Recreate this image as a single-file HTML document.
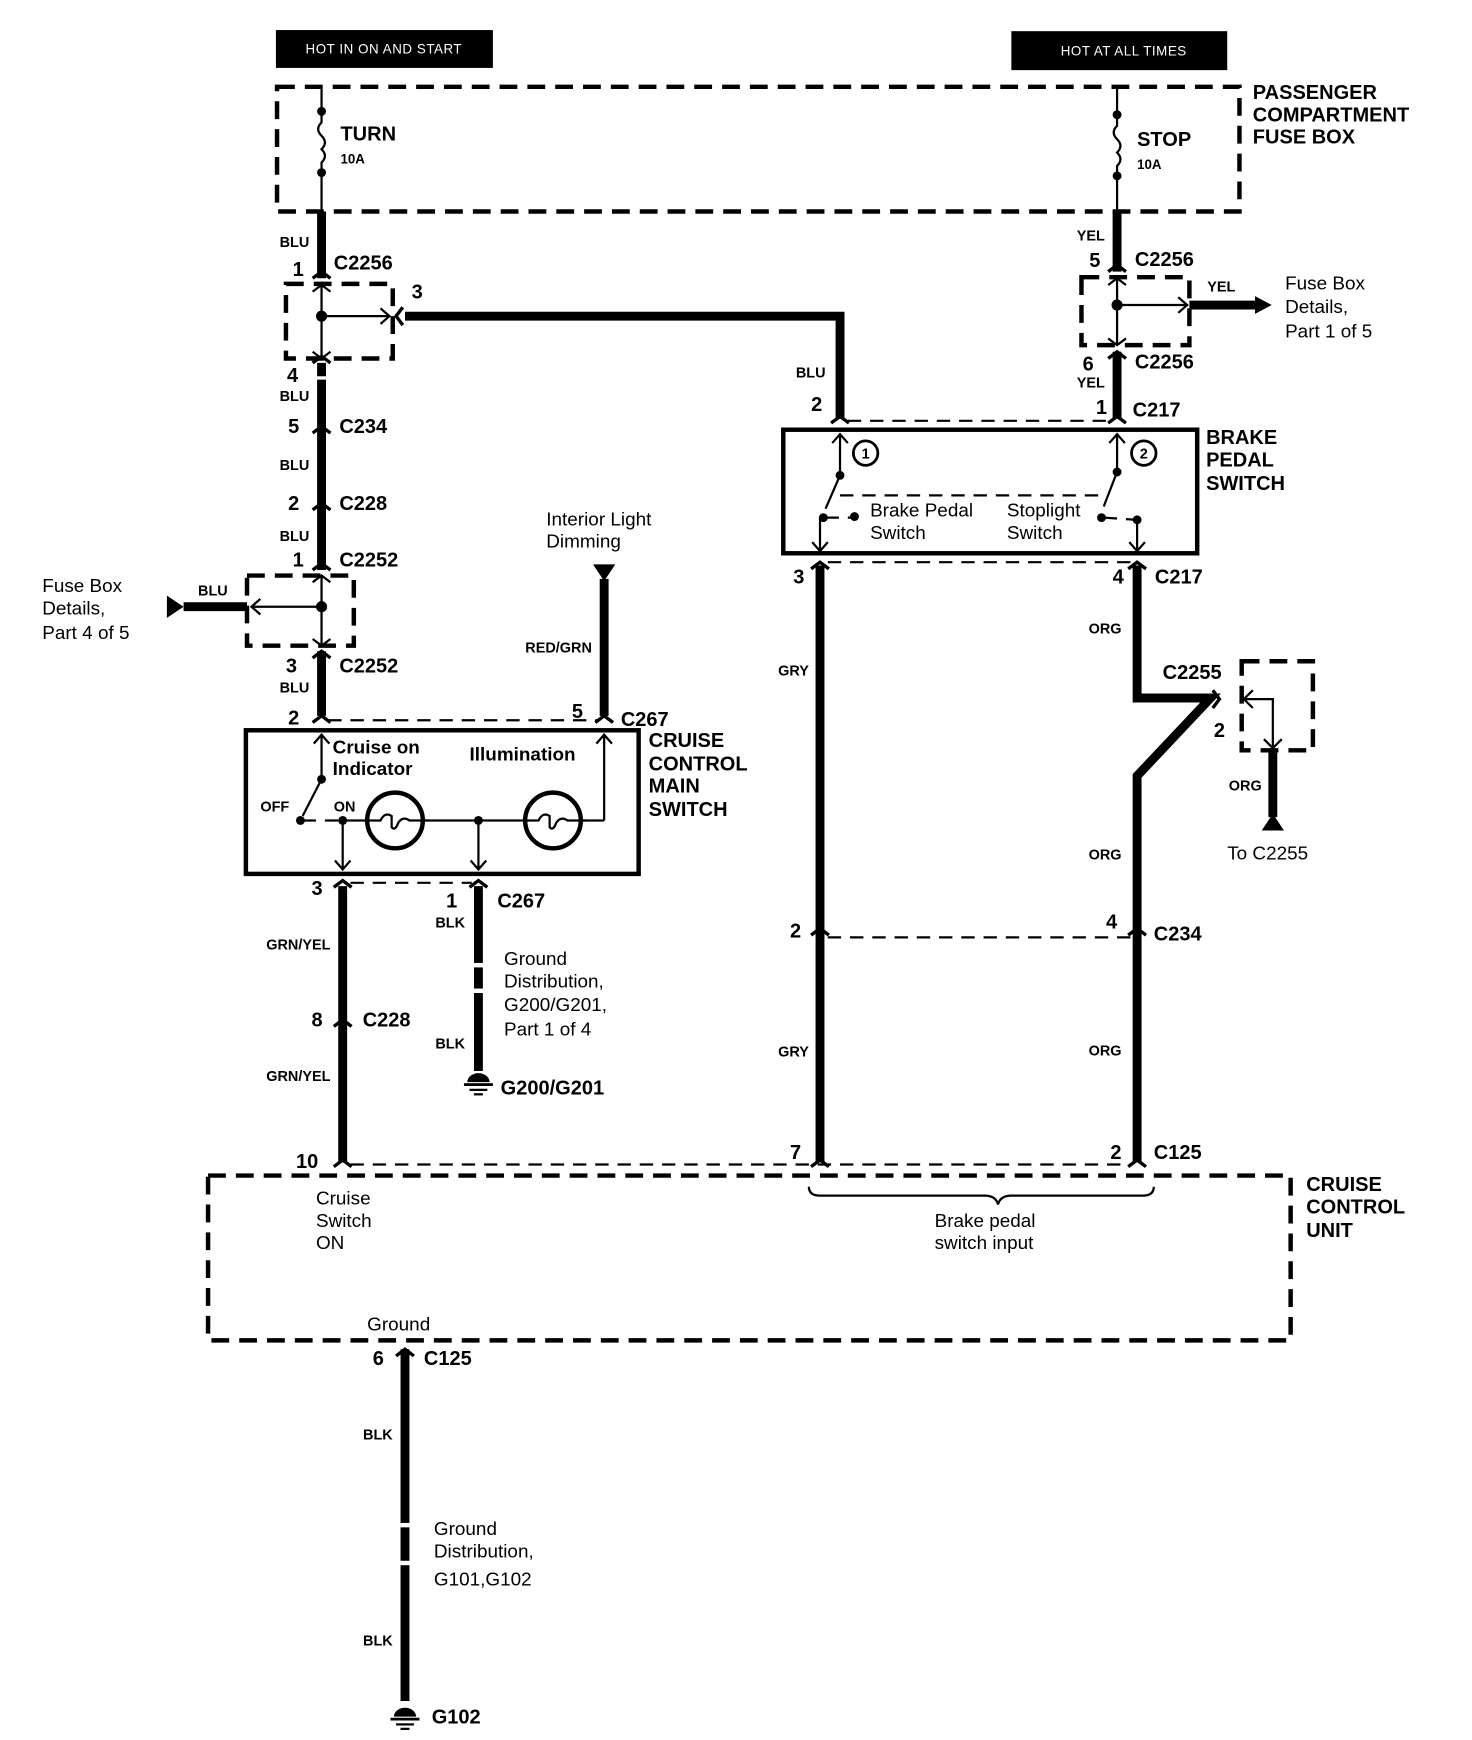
<!DOCTYPE html>
<html><head><meta charset="utf-8"><style>
html,body{margin:0;padding:0;background:#fff}
svg{display:block}
text{font-family:"Liberation Sans",Arial,sans-serif;fill:#000}
.b{font-weight:bold}
.w{font-size:13px;font-weight:bold}
.l{font-size:18px;font-weight:bold}
.r{font-size:17px}
</style></head><body>
<svg width="1472" height="1740" viewBox="0 0 1323 1563" preserveAspectRatio="none" xmlns="http://www.w3.org/2000/svg">
<rect width="1323" height="1563" fill="#fff"/>
<!-- header boxes -->
<rect x="248" y="27" width="195" height="34" fill="#000"/>
<text x="345" y="48" font-size="12" text-anchor="middle" style="fill:#fff" letter-spacing="0.5">HOT IN ON AND START</text>
<rect x="909" y="28" width="194" height="35" fill="#000"/>
<text x="1010" y="50" font-size="12" text-anchor="middle" style="fill:#fff" letter-spacing="0.5">HOT AT ALL TIMES</text>

<g fill="none" stroke="#000" stroke-width="4" stroke-dasharray="16,9">
<rect x="249" y="78" width="865" height="112"/>
<rect x="257" y="255" width="96" height="67"/>
<rect x="222" y="517" width="96" height="63"/>
<rect x="972" y="249" width="97" height="61"/>
<rect x="1116" y="594" width="64" height="80"/>
<rect x="187" y="1056" width="973" height="148"/>
</g>
<g fill="none" stroke="#000" stroke-width="2" stroke-dasharray="12,8">
<line x1="295" y1="647" x2="537" y2="647"/>
<line x1="315" y1="793" x2="424" y2="793"/>
<line x1="315" y1="1046" x2="1016" y2="1046"/>
<line x1="762" y1="378" x2="998" y2="378"/>
<line x1="744" y1="505" x2="1016" y2="505"/>
<line x1="744" y1="842" x2="1016" y2="842"/>
<line x1="755" y1="445" x2="995" y2="445"/>
<line x1="272" y1="737" x2="306" y2="737"/>
<line x1="742" y1="465" x2="766" y2="465"/>
<line x1="992" y1="465" x2="1022" y2="467"/>
</g>
<!-- fuses -->
<g fill="none" stroke="#000" stroke-width="2">
<line x1="289" y1="78" x2="289" y2="100"/>
<path d="M289 100 v10 q-6 6 0 12 q6 6 0 12 q6 6 0 12 v9"/>
<line x1="289" y1="155" x2="289" y2="190"/>
<line x1="1004" y1="78" x2="1004" y2="103"/>
<path d="M1004 103 v10 q-6 6 0 12 q6 6 0 12 q6 6 0 12 v9"/>
<line x1="1004" y1="158" x2="1004" y2="190"/>
</g>
<g fill="#000">
<circle cx="289" cy="100" r="4"/><circle cx="289" cy="155" r="4"/>
<circle cx="1004" cy="103" r="4"/><circle cx="1004" cy="158" r="4"/>
</g>
<!-- thick wires -->
<g fill="none" stroke="#000" stroke-width="8">
<line x1="289" y1="190" x2="289" y2="250"/>
<line x1="289" y1="326" x2="289" y2="512"/>
<line x1="289" y1="585" x2="289" y2="643"/>
<polyline points="364,284 755,284 755,376"/>
<line x1="1004" y1="190" x2="1004" y2="244"/>
<line x1="1004" y1="316" x2="1004" y2="376"/>
<line x1="1069" y1="274" x2="1128" y2="274"/>
<line x1="165" y1="545" x2="222" y2="545"/>
<line x1="543" y1="520" x2="543" y2="643"/>
<line x1="308" y1="796" x2="308" y2="1044"/>
<line x1="430" y1="796" x2="430" y2="962"/>
<line x1="737" y1="508" x2="737" y2="1044"/>
<polyline points="1022,508 1022,627 1088,627 1022,697 1022,1044"/>
<line x1="1144" y1="674" x2="1144" y2="734"/>
<line x1="364" y1="1212" x2="364" y2="1528"/>
</g>
<!-- gaps in wires -->
<g fill="#fff">
<rect x="280" y="338" width="18" height="3"/>
<rect x="425" y="865" width="10" height="4"/><rect x="425" y="888" width="10" height="4"/>
<rect x="359" y="1368" width="10" height="4"/><rect x="359" y="1402" width="10" height="4"/>
</g>
<!-- connectors -->
<g fill="none" stroke="#000" stroke-width="3">
<path d="M281 250 l8 -6 l8 6"/><path d="M281 326 l8 -6 l8 6"/>
<path d="M281 389 l8 -6 l8 6"/><path d="M281 458 l8 -6 l8 6"/>
<path d="M281 512 l8 -6 l8 6"/><path d="M281 591 l8 -6 l8 6"/>
<path d="M281 649 l8 -6 l8 6"/><path d="M535 649 l8 -6 l8 6"/>
<path d="M300 797 l8 -6 l8 6"/><path d="M422 797 l8 -6 l8 6"/>
<path d="M300 922 l8 -6 l8 6"/><path d="M300 1048 l8 -6 l8 6"/>
<path d="M747 380 l8 -6 l8 6"/><path d="M996 380 l8 -6 l8 6"/>
<path d="M996 244 l8 -6 l8 6"/><path d="M996 322 l8 -6 l8 6"/>
<path d="M729 511 l8 -6 l8 6"/><path d="M1014 511 l8 -6 l8 6"/>
<path d="M729 840 l8 -6 l8 6"/><path d="M1014 840 l8 -6 l8 6"/>
<path d="M729 1048 l8 -6 l8 6"/><path d="M1014 1048 l8 -6 l8 6"/>
<path d="M356 1218 l8 -6 l8 6"/>
<path d="M362 276 l-6 8 l6 8"/>
<path d="M1090 620 l6 8 l-6 8"/>
</g>
<!-- thin internal lines with arrows -->
<g fill="none" stroke="#000" stroke-width="2">
<line x1="289" y1="255" x2="289" y2="322"/>
<line x1="289" y1="284" x2="350" y2="284"/><path d="M342 277 l8 7 l-8 7"/>
<path d="M281 262 l8 -6 l8 6"/><path d="M281 316 l8 6 l8 -6"/>
<line x1="289" y1="517" x2="289" y2="580"/>
<line x1="289" y1="545" x2="226" y2="545"/><path d="M234 538 l-8 7 l8 7"/>
<path d="M281 523 l8 -6 l8 6"/><path d="M281 574 l8 6 l8 -6"/>
<line x1="1004" y1="249" x2="1004" y2="310"/>
<line x1="1004" y1="274" x2="1067" y2="274"/><path d="M1059 267 l8 7 l-8 7"/>
<path d="M996 256 l8 -6 l8 6"/><path d="M996 304 l8 6 l8 -6"/>
<polyline points="1144,672 1144,628 1118,628"/><path d="M1126 620 l-8 8 l8 8"/><path d="M1136 664 l8 8 l8 -8"/>
<!-- main switch -->
<line x1="289" y1="660" x2="289" y2="700"/><path d="M282 668 l7 -8 l7 8"/>
<line x1="289" y1="700" x2="272" y2="733"/>
<line x1="308" y1="737" x2="329" y2="737"/><line x1="381" y1="737" x2="471" y2="737"/><line x1="523" y1="737" x2="543" y2="737"/>
<line x1="543" y1="737" x2="543" y2="660"/><path d="M536 668 l7 -8 l7 8"/>
<line x1="308" y1="737" x2="308" y2="781"/><path d="M301 773 l7 8 l7 -8"/>
<line x1="430" y1="737" x2="430" y2="781"/><path d="M423 773 l7 8 l7 -8"/>
<!-- brake switch -->
<line x1="755" y1="390" x2="755" y2="427"/><path d="M748 398 l7 -8 l7 8"/>
<line x1="755" y1="427" x2="742" y2="457"/>
<line x1="737" y1="465" x2="737" y2="495"/><path d="M730 487 l7 8 l7 -8"/>
<line x1="1004" y1="390" x2="1004" y2="424"/><path d="M997 398 l7 -8 l7 8"/>
<line x1="1004" y1="424" x2="992" y2="455"/>
<line x1="1022" y1="467" x2="1022" y2="495"/><path d="M1015 487 l7 8 l7 -8"/>
<!-- bracket -->
<path d="M727 1066 q0 8 10 8 h148 q10 0 12 8 q2 -8 12 -8 h118 q10 0 10 -8"/>
</g>
<g fill="#000">
<circle cx="289" cy="284" r="5"/><circle cx="289" cy="545" r="5"/><circle cx="1004" cy="274" r="5"/>
<circle cx="289" cy="700" r="4"/><circle cx="270" cy="737" r="4"/><circle cx="308" cy="737" r="4"/><circle cx="430" cy="737" r="4"/>
<circle cx="755" cy="427" r="4"/><circle cx="740" cy="465" r="4"/><circle cx="768" cy="464" r="4"/>
<circle cx="1004" cy="424" r="4"/><circle cx="990" cy="465" r="4"/><circle cx="1022" cy="467" r="4"/>
<polygon points="150,535 165,545 150,555"/>
<polygon points="1128,266 1143,274 1128,282"/>
<polygon points="533,507 553,507 543,522"/>
<polygon points="1134,746 1154,746 1144,731"/>
</g>
<!-- component boxes -->
<rect x="221" y="656" width="353" height="129" fill="none" stroke="#000" stroke-width="4"/>
<rect x="704" y="386" width="372" height="111" fill="none" stroke="#000" stroke-width="4"/>
<g fill="none" stroke="#000">
<circle cx="355" cy="737" r="25" stroke-width="4"/><circle cx="497" cy="737" r="25" stroke-width="4"/>
<path d="M330 737 h12 q4 -8 10 -4 v10 q3 4 6 -4 q4 -6 10 -2 h17" stroke-width="2"/>
<path d="M472 737 h12 q4 -8 10 -4 v10 q3 4 6 -4 q4 -6 10 -2 h17" stroke-width="2"/>
<circle cx="778" cy="407" r="11" stroke-width="2.5"/><circle cx="1028" cy="407" r="11" stroke-width="2.5"/>
</g>
<text x="778" y="412" font-size="13" class="b" text-anchor="middle">1</text>
<text x="1028" y="412" font-size="13" class="b" text-anchor="middle">2</text>
<!-- grounds -->
<g fill="#000">
<path d="M420 972 a10 8 0 0 1 20 0 z"/><rect x="417" y="973" width="26" height="2.5"/><rect x="422" y="978" width="16" height="2"/><rect x="426" y="982" width="8" height="2"/>
<path d="M354 1542 a10 8 0 0 1 20 0 z"/><rect x="351" y="1543" width="26" height="2.5"/><rect x="356" y="1548" width="16" height="2"/><rect x="360" y="1552" width="8" height="2"/>
</g>
<!-- labels -->
<text x="1126" y="89" class="l">PASSENGER</text>
<text x="1126" y="109" class="l">COMPARTMENT</text>
<text x="1126" y="129" class="l">FUSE BOX</text>
<text x="306" y="126" class="l">TURN</text><text x="306" y="147" font-size="12" class="b">10A</text>
<text x="1022" y="131" class="l">STOP</text><text x="1022" y="152" font-size="12" class="b">10A</text>

<g class="w" text-anchor="end">
<text x="278" y="222">BLU</text><text x="278" y="360">BLU</text><text x="278" y="422">BLU</text><text x="278" y="486">BLU</text><text x="278" y="622">BLU</text>
<text x="993" y="216">YEL</text><text x="993" y="348">YEL</text>
<text x="742" y="339">BLU</text>
<text x="532" y="586">RED/GRN</text>
<text x="297" y="853">GRN/YEL</text><text x="297" y="971">GRN/YEL</text>
<text x="418" y="833">BLK</text><text x="418" y="942">BLK</text>
<text x="727" y="607">GRY</text><text x="727" y="949">GRY</text>
<text x="1008" y="569">ORG</text><text x="1008" y="772">ORG</text><text x="1008" y="948">ORG</text>
<text x="1134" y="710">ORG</text>
<text x="353" y="1293">BLK</text><text x="353" y="1478">BLK</text>
</g>
<text x="178" y="535" class="w">BLU</text>
<text x="1085" y="262" class="w">YEL</text>

<g class="l" font-size="17">
<text x="263" y="248">1</text><text x="300" y="242">C2256</text>
<text x="370" y="268">3</text>
<text x="258" y="343">4</text>
<text x="259" y="389">5</text><text x="305" y="389">C234</text>
<text x="259" y="458">2</text><text x="305" y="458">C228</text>
<text x="263" y="509">1</text><text x="305" y="509">C2252</text>
<text x="257" y="604">3</text><text x="305" y="604">C2252</text>
<text x="259" y="651">2</text>
<text x="514" y="645">5</text><text x="558" y="652">C267</text>
<text x="280" y="804">3</text>
<text x="401" y="815">1</text><text x="447" y="815">C267</text>
<text x="280" y="922">8</text><text x="326" y="922">C228</text>
<text x="266" y="1049">10</text>
<text x="450" y="983">G200/G201</text>
<text x="335" y="1226">6</text><text x="381" y="1226">C125</text>
<text x="388" y="1548">G102</text>
<text x="979" y="240">5</text><text x="1020" y="239">C2256</text>
<text x="973" y="333">6</text><text x="1020" y="331">C2256</text>
<text x="985" y="372">1</text><text x="1018" y="374">C217</text>
<text x="729" y="369">2</text>
<text x="713" y="524">3</text>
<text x="1000" y="524">4</text><text x="1038" y="524">C217</text>
<text x="1045" y="610">C2255</text>
<text x="1091" y="662">2</text>
<text x="710" y="842">2</text>
<text x="994" y="834">4</text><text x="1037" y="845">C234</text>
<text x="710" y="1041">7</text>
<text x="998" y="1041">2</text><text x="1037" y="1041">C125</text>
</g>
<g class="l">
<text x="583" y="671">CRUISE</text><text x="583" y="692">CONTROL</text><text x="583" y="712">MAIN</text><text x="583" y="733">SWITCH</text>
<text x="1084" y="399">BRAKE</text><text x="1084" y="419">PEDAL</text><text x="1084" y="440">SWITCH</text>
<text x="1174" y="1070">CRUISE</text><text x="1174" y="1090">CONTROL</text><text x="1174" y="1111">UNIT</text>
<text x="299" y="677" font-size="17">Cruise on</text><text x="299" y="696" font-size="17">Indicator</text>
<text x="422" y="683" font-size="17">Illumination</text>
</g>
<text x="234" y="729" class="w" font-size="14">OFF</text><text x="300" y="729" class="w" font-size="14">ON</text>
<g class="r">
<text x="38" y="532">Fuse  Box</text><text x="38" y="552">Details,</text><text x="38" y="574">Part 4 of 5</text>
<text x="1155" y="260">Fuse Box</text><text x="1155" y="281">Details,</text><text x="1155" y="303">Part 1 of 5</text>
<text x="491" y="472">Interior Light</text><text x="491" y="492">Dimming</text>
<text x="453" y="867">Ground</text><text x="453" y="887">Distribution,</text><text x="453" y="908">G200/G201,</text><text x="453" y="930">Part 1 of 4</text>
<text x="782" y="464">Brake Pedal</text><text x="782" y="484">Switch</text>
<text x="905" y="464">Stoplight</text><text x="905" y="484">Switch</text>
<text x="1103" y="772">To C2255</text>
<text x="284" y="1082">Cruise</text><text x="284" y="1102">Switch</text><text x="284" y="1122">ON</text>
<text x="840" y="1102">Brake pedal</text><text x="840" y="1122">switch input</text>
<text x="330" y="1195">Ground</text>
<text x="390" y="1379">Ground</text><text x="390" y="1399">Distribution,</text><text x="390" y="1424">G101,G102</text>
</g>
</svg>
</body></html>
